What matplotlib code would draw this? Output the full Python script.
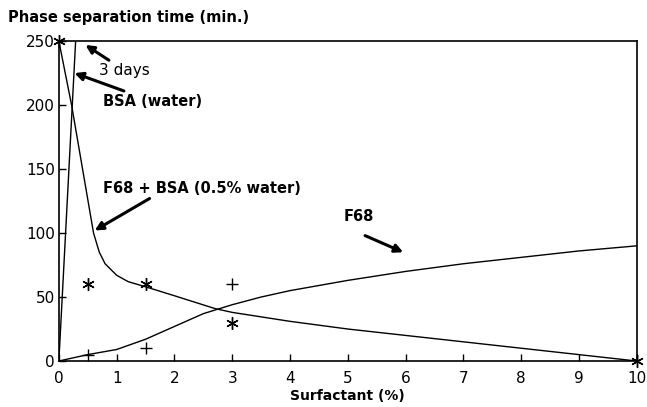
import matplotlib.pyplot as plt

# descending curve: F68 + BSA (0.5% water)
mix_x = [0, 0.22, 0.6, 0.7, 0.8, 1.0, 1.2, 1.5, 2.0, 2.7, 3.0, 4.0, 5.0, 6.0, 7.0, 8.0, 9.0, 10.0]
mix_y = [250, 200, 100, 85, 76, 67, 62, 58, 51, 41, 38, 31, 25, 20, 15, 10, 5, 0]

# BSA (water)
bsa_x = [0, 0.29]
bsa_y = [0, 250]

# F68 alone
f68_x = [0, 0.5, 1.0, 1.5, 2.0, 2.5, 3.0, 3.5, 4.0, 4.5, 5.0, 6.0, 7.0, 8.0, 9.0, 10.0]
f68_y = [0, 5, 9, 17, 27, 37, 44, 50, 55, 59, 63, 70, 76, 81, 86, 90]

# measured points
star_x = [0, 0.5, 1.5, 3, 10]
star_y = [250, 60, 60, 30, 0]
plus_x = [0.5, 1.5, 3]
plus_y = [5, 10, 60]

xticks = list(range(0, 11))
yticks = [0, 50, 100, 150, 200, 250]

plt.rcParams['font.family'] = ['DejaVu Sans']

fig = plt.figure(figsize=(6.47, 4.07), dpi=100)
ax = fig.add_axes([0.091, 0.113, 0.893, 0.786])

ax.plot(mix_x, mix_y, color='black', lw=1.0)
ax.plot(bsa_x, bsa_y, color='black', lw=1.0)
ax.plot(f68_x, f68_y, color='black', lw=1.0)
ax.plot(star_x, star_y, ls='none', marker=(6, 2, 0), ms=9, mew=1.0, color='black', clip_on=False)
ax.plot(plus_x, plus_y, ls='none', marker='+', ms=8, mew=1.0, color='black')

ax.set_xlim(0, 10)
ax.set_ylim(0, 250)
ax.set_xticks(xticks)
ax.set_yticks(yticks)
ax.tick_params(direction='in', length=5, width=1, labelsize=11)
ax.tick_params(axis='x', pad=7)
ax.tick_params(axis='y', pad=3)
for s in ax.spines.values():
    s.set_linewidth(1.2)

ax.set_xlabel('Surfactant (%)', fontsize=10, fontweight='bold', labelpad=2)
fig.text(0.012, 0.958, 'Phase separation time (min.)', fontsize=10.5, fontweight='bold',
         va='center', ha='left')

arrow = dict(arrowstyle='-|>', lw=2.2, color='black', mutation_scale=12, shrinkA=0, shrinkB=0)
ax.annotate('3 days', xy=(0.46, 247), xytext=(0.7, 227), fontsize=11,
            va='center', ha='left', arrowprops=arrow)
ax.annotate('BSA (water)', xy=(0.27, 225), xytext=(0.76, 203), fontsize=10.5,
            fontweight='bold', va='center', ha='left', arrowprops=arrow)
ax.annotate('F68 + BSA (0.5% water)', xy=(0.62, 102), xytext=(0.77, 135), fontsize=10.5,
            fontweight='bold', va='center', ha='left')
ax.annotate('', xy=(0.62, 102), xytext=(1.57, 127), arrowprops=arrow)
ax.text(4.92, 113, 'F68', fontsize=10.5, fontweight='bold', va='center', ha='left')
ax.annotate('', xy=(5.96, 85), xytext=(5.3, 98), arrowprops=arrow)

fig.savefig('out.png', dpi=100)
